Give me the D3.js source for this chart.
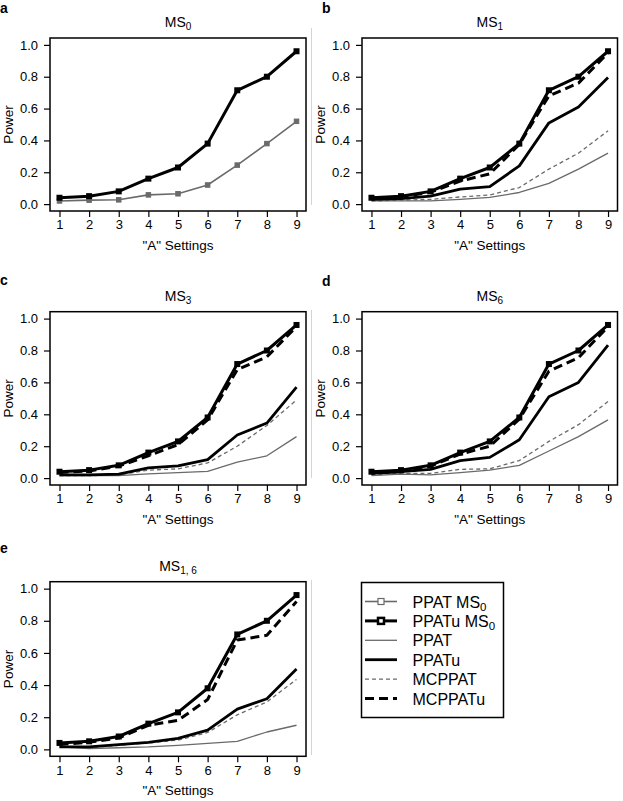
<!DOCTYPE html>
<html><head><meta charset="utf-8">
<script src="https://cdn.jsdelivr.net/npm/d3@7"></script>
<style>body{margin:0;background:#fff}svg{display:block}text{font-family:"Liberation Sans",Arial,sans-serif}</style>
</head><body><svg id="c" width="623" height="801"></svg>
<script>
const settings = [1,2,3,4,5,6,7,8,9];
const yTicks = [0,0.2,0.4,0.6,0.8,1.0];
const ppatuMS0 = [0.04,0.05,0.08,0.16,0.23,0.38,0.715,0.80,0.96];
const ppatMS0  = [0.02,0.025,0.027,0.058,0.065,0.12,0.245,0.38,0.52];
// MS1
const ms1PPAT    = [0.02,0.02,0.02,0.03,0.042,0.073,0.13,0.22,0.32];
const ms1PPATu   = [0.03,0.035,0.05,0.094,0.11,0.24,0.51,0.61,0.795];
const ms1MCPPAT  = [0.02,0.025,0.03,0.045,0.058,0.104,0.22,0.32,0.46];
const ms1MCPPATu = [0.035,0.045,0.075,0.145,0.19,0.375,0.68,0.76,0.95];
// MS3
const ms3PPAT    = [0.015,0.015,0.015,0.027,0.035,0.042,0.10,0.14,0.26];
const ms3PPATu   = [0.02,0.02,0.025,0.064,0.077,0.116,0.27,0.345,0.57];
const ms3MCPPAT  = [0.015,0.015,0.02,0.05,0.058,0.095,0.20,0.33,0.49];
const ms3MCPPATu = [0.035,0.045,0.075,0.14,0.21,0.365,0.68,0.76,0.95];
// MS6
const ms6PPAT    = [0.015,0.025,0.02,0.035,0.05,0.08,0.17,0.26,0.365];
const ms6PPATu   = [0.03,0.04,0.055,0.11,0.13,0.24,0.51,0.60,0.834];
const ms6MCPPAT  = [0.02,0.03,0.03,0.055,0.058,0.11,0.23,0.335,0.48];
const ms6MCPPATu = [0.035,0.045,0.075,0.15,0.20,0.37,0.67,0.755,0.95];
// MS1,6
const ms16PPAT    = [0.015,0.005,0.01,0.015,0.025,0.037,0.05,0.108,0.15];
const ms16PPATu   = [0.015,0.015,0.03,0.044,0.068,0.12,0.25,0.315,0.50];
const ms16MCPPAT  = [0.015,0.012,0.025,0.04,0.058,0.105,0.215,0.295,0.435];
const ms16MCPPATu = [0.03,0.045,0.07,0.15,0.18,0.31,0.68,0.71,0.92];

const styles = {
  ppatMS0:  {stroke:"#6a6a6a", w:1.6, dash:null, marker:true, ms:4.5, mw:1},
  ppatuMS0: {stroke:"#000", w:3, dash:null, marker:true, ms:4.5, mw:1.5},
  PPAT:     {stroke:"#6a6a6a", w:1.3, dash:null},
  PPATu:    {stroke:"#000", w:2.8, dash:null},
  MCPPAT:   {stroke:"#6a6a6a", w:1.3, dash:"4,3"},
  MCPPATu:  {stroke:"#000", w:3, dash:"9,5"}
};

const panels = [
  {letter:"a", sub:"0", x0:50, x1:306, y0:38, y1:211, lx:0, ly:13,
   series:[["ppatMS0",ppatMS0],["ppatuMS0",ppatuMS0]]},
  {letter:"b", sub:"1", x0:362, x1:617.5, y0:38, y1:211, lx:322, ly:13,
   series:[["PPAT",ms1PPAT],["MCPPAT",ms1MCPPAT],["PPATu",ms1PPATu],["MCPPATu",ms1MCPPATu],["ppatuMS0",ppatuMS0]]},
  {letter:"c", sub:"3", x0:50, x1:306, y0:311.7, y1:485, lx:0, ly:285,
   series:[["PPAT",ms3PPAT],["MCPPAT",ms3MCPPAT],["PPATu",ms3PPATu],["MCPPATu",ms3MCPPATu],["ppatuMS0",ppatuMS0]]},
  {letter:"d", sub:"6", x0:362, x1:617.5, y0:311.7, y1:485, lx:322, ly:286,
   series:[["PPAT",ms6PPAT],["MCPPAT",ms6MCPPAT],["PPATu",ms6PPATu],["MCPPATu",ms6MCPPATu],["ppatuMS0",ppatuMS0]]},
  {letter:"e", sub:"1, 6", x0:50, x1:306, y0:581.7, y1:756.3, lx:0, ly:553,
   series:[["PPAT",ms16PPAT],["MCPPAT",ms16MCPPAT],["PPATu",ms16PPATu],["MCPPATu",ms16MCPPATu],["ppatuMS0",ppatuMS0]]}
];

const svg = d3.select("#c");

// faint panel separators in the original figure
[[28,205],[310,478],[580,755]].forEach(([a,b])=>{
  svg.append("line").attr("x1",311.5).attr("x2",311.5).attr("y1",a).attr("y2",b)
    .attr("stroke","#d4d4d4").attr("stroke-width",1);
});

panels.forEach(p=>{
  const x = d3.scaleLinear().domain([0.68,9.32]).range([p.x0,p.x1]);
  const y = d3.scaleLinear().domain([-0.0432,1.0432]).range([p.y1,p.y0]);
  const g = svg.append("g");

  const xa = g.append("g").attr("transform",`translate(0,${p.y1})`)
    .call(d3.axisBottom(x).tickValues(settings).tickFormat(d3.format("d")).tickSize(6).tickPadding(3));
  xa.select(".domain").remove();
  xa.selectAll("line").attr("stroke","#000").attr("stroke-width",1.2);
  xa.selectAll("text").attr("font-size",13).attr("fill","#000").attr("font-family","Liberation Sans, Arial, sans-serif");

  const ya = g.append("g").attr("transform",`translate(${p.x0},0)`)
    .call(d3.axisLeft(y).tickValues(yTicks).tickFormat(d3.format(".1f")).tickSize(6).tickPadding(6));
  ya.select(".domain").remove();
  ya.selectAll("line").attr("stroke","#000").attr("stroke-width",1.2);
  ya.selectAll("text").attr("font-size",13).attr("fill","#000").attr("font-family","Liberation Sans, Arial, sans-serif");

  g.append("rect").attr("x",p.x0).attr("y",p.y0).attr("width",p.x1-p.x0).attr("height",p.y1-p.y0)
    .attr("fill","none").attr("stroke","#000").attr("stroke-width",1.5);

  p.series.forEach(([key,vals])=>{
    const s = styles[key];
    const line = d3.line().x((d,i)=>x(settings[i])).y(d=>y(d));
    g.append("path").datum(vals).attr("d",line).attr("fill","none")
      .attr("stroke",s.stroke).attr("stroke-width",s.w)
      .attr("stroke-dasharray",s.dash).attr("stroke-linejoin","round");
    if(s.marker){
      g.selectAll(null).data(vals).enter().append("rect")
        .attr("x",(d,i)=>x(settings[i])-s.ms/2).attr("y",d=>y(d)-s.ms/2)
        .attr("width",s.ms).attr("height",s.ms)
        .attr("fill",s.stroke).attr("stroke",s.stroke).attr("stroke-width",s.mw);
    }
  });

  const cx = (p.x0+p.x1)/2;
  const t = g.append("text").attr("x",cx).attr("y",p.y0-11).attr("text-anchor","middle")
    .attr("font-size",14);
  t.append("tspan").text("MS");
  t.append("tspan").attr("dy",3).attr("font-size",10).text(p.sub);

  g.append("text").attr("x",cx).attr("y",p.y1+39).attr("text-anchor","middle")
    .attr("font-size",13.5).text('"A" Settings');
  g.append("text").attr("transform",`translate(${p.x0-37},${(y(0)+y(1))/2}) rotate(-90)`)
    .attr("text-anchor","middle").attr("font-size",13.5).text("Power");

  svg.append("text").attr("x",p.lx).attr("y",p.ly).attr("font-size",14).attr("font-weight","bold").text(p.letter);
});

const legendItems = [
  {key:"ppatMS0", label:"PPAT MS", sub:"0", open:true},
  {key:"ppatuMS0", label:"PPATu MS", sub:"0", open:true},
  {key:"PPAT", label:"PPAT"},
  {key:"PPATu", label:"PPATu"},
  {key:"MCPPAT", label:"MCPPAT"},
  {key:"MCPPATu", label:"MCPPATu"}
];
const lg = svg.append("g");
lg.append("rect").attr("x",361.5).attr("y",582.5).attr("width",142).attr("height",135)
  .attr("fill","none").attr("stroke","#000").attr("stroke-width",1.5);
const ly = d3.scalePoint().domain(legendItems.map(d=>d.key)).range([601.5,698.5]);
legendItems.forEach(it=>{
  const s = styles[it.key];
  const yy = ly(it.key);
  lg.append("line").attr("x1",365).attr("x2",397).attr("y1",yy).attr("y2",yy)
    .attr("stroke",s.stroke).attr("stroke-width",s.w).attr("stroke-dasharray",s.dash);
  if(it.open){
    const sz = 6;
    lg.append("rect").attr("x",381-sz/2).attr("y",yy-sz/2).attr("width",sz).attr("height",sz)
      .attr("fill","#fff").attr("stroke",s.stroke).attr("stroke-width",it.key==="ppatuMS0"?2.5:1.2);
  }
  const t = lg.append("text").attr("x",412.5).attr("y",yy+6).attr("font-size",16);
  t.append("tspan").text(it.label);
  if(it.sub) t.append("tspan").attr("dy",3).attr("font-size",11.5).text(it.sub);
});
</script></body></html>
